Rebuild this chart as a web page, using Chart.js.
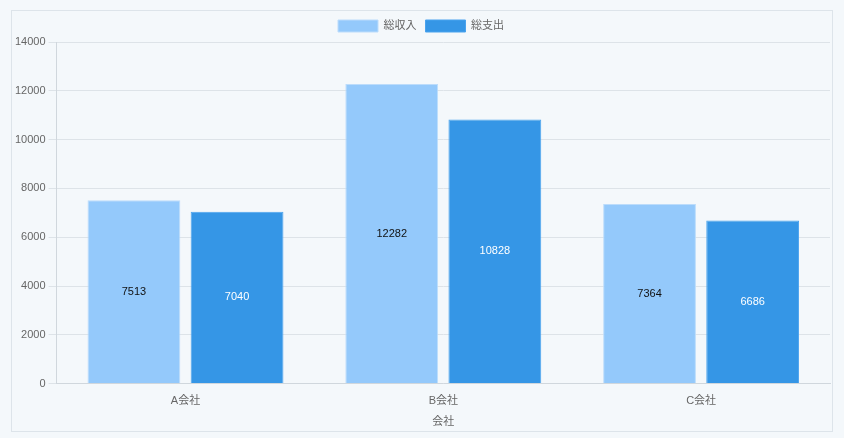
<!DOCTYPE html>
<html>
<head>
<meta charset="utf-8">
<script src="https://cdn.jsdelivr.net/npm/chart.js@4/dist/chart.umd.min.js"></script>
<style>
  html, body { margin: 0; padding: 0; background: #f4f8fb; }
  #box {
    position: absolute; left: 11px; top: 10px;
    width: 820px; height: 420px;
    border: 1px solid #dde4ea; background: #f4f8fb;
  }
</style>
</head>
<body>
<div id="box"><canvas id="chart"></canvas></div>
<script>
const companies = ['A会社', 'B会社', 'C会社'];
const totalIncome = [7513, 12282, 7364];
const totalExpense = [7040, 10828, 6686];
const yTicks = [0, 2000, 4000, 6000, 8000, 10000, 12000, 14000];

// 棒の中央に数値を描く
const centerLabels = {
    id: 'centerLabels',
    afterDatasetsDraw(chart) {
        const ctx = chart.ctx;
        ctx.save();
        ctx.font = '11px "Liberation Sans", Arial, sans-serif';
        ctx.textAlign = 'center';
        ctx.textBaseline = 'middle';
        chart.data.datasets.forEach((ds, i) => {
            const meta = chart.getDatasetMeta(i);
            ctx.fillStyle = i === 0 ? '#111' : '#fff';
            meta.data.forEach((bar, j) => {
                const mid = (bar.y + bar.base) / 2;
                ctx.fillText(ds.data[j], bar.x, mid);
            });
        });
        ctx.restore();
    }
};

Chart.defaults.font.family = '"Liberation Sans", Arial, "Noto Sans CJK JP", sans-serif';
Chart.defaults.font.size = 11;
Chart.defaults.color = '#666';

new Chart(document.getElementById('chart'), {
    type: 'bar',
    data: {
        labels: companies,
        datasets: [{
            label: '総収入',
            data: totalIncome,
            backgroundColor: '#94c9fb',
            borderColor: '#bcdcfb',
            borderWidth: 1
        }, {
            label: '総支出',
            data: totalExpense,
            backgroundColor: '#3596e6',
            borderColor: '#4aa3ee',
            borderWidth: 1
        }]
    },
    options: {
        responsive: true,
        maintainAspectRatio: false,
        animation: false,
        layout: { padding: { left: 0, right: 2, top: 0, bottom: 0 } },
        plugins: {
            legend: { position: 'top', labels: { boxWidth: 40, boxHeight: 12, font: { size: 11 }, padding: 9 } },
            tooltip: { enabled: false }
        },
        scales: {
            x: {
                title: { display: true, text: '会社', font: { size: 11 }, padding: { top: 5, bottom: 2 } },
                grid: { display: false },
                border: { color: '#d0d7dd' }
            },
            y: {
                min: yTicks[0],
                max: yTicks[yTicks.length - 1],
                afterBuildTicks: axis => { axis.ticks = yTicks.map(v => ({ value: v })); },
                ticks: { callback: v => String(v) },
                grid: { color: '#dde3e8' },
                border: { color: '#d0d7dd' }
            }
        }
    },
    plugins: [centerLabels]
});
</script>
</body>
</html>
